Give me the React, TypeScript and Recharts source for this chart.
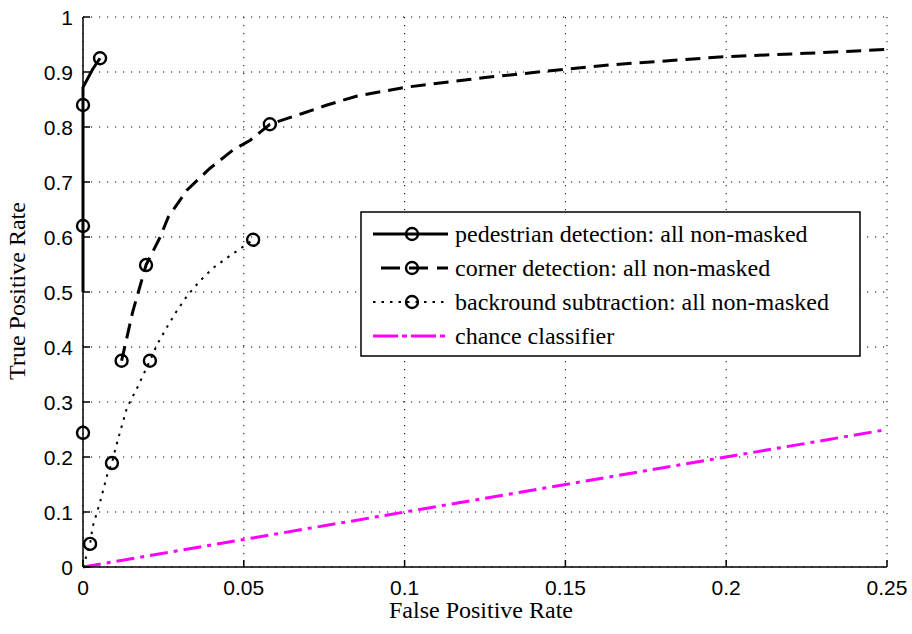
import React from 'react';
import { LineChart, Line, XAxis, YAxis, CartesianGrid } from 'recharts';

// ---- data ----
const pedestrianX = [0, 0, 0, 0, 0.003, 0.0053];
const pedestrianY = [0.5, 0.62, 0.84, 0.872, 0.905, 0.925];
const pedestrianMarks = [1, 2, 5];

const pedestrianExtraX = [0];
const pedestrianExtraY = [0.244];
const pedestrianExtraMarks = [0];

const cornerX = [0.012, 0.0155, 0.0196, 0.024, 0.0265, 0.0323, 0.0395, 0.0466, 0.052, 0.0581, 0.0684, 0.0759, 0.085, 0.1, 0.125, 0.15, 0.164, 0.2, 0.225, 0.25];
const cornerY = [0.375, 0.465, 0.549, 0.6, 0.636, 0.685, 0.725, 0.758, 0.776, 0.805, 0.825, 0.84, 0.856, 0.872, 0.89, 0.905, 0.913, 0.928, 0.934, 0.941];
const cornerMarks = [0, 2, 9];

const backgroundX = [0, 0.0022, 0.003, 0.0053, 0.0075, 0.009, 0.01, 0.0115, 0.0137, 0.0168, 0.0208, 0.023, 0.026, 0.029, 0.0325, 0.0365, 0.0405, 0.045, 0.0529];
const backgroundY = [0.0, 0.042, 0.073, 0.118, 0.167, 0.189, 0.213, 0.245, 0.29, 0.325, 0.375, 0.404, 0.435, 0.464, 0.494, 0.521, 0.544, 0.563, 0.595];
const backgroundMarks = [1, 5, 10, 18];

const chanceX = [0, 0.25];
const chanceY = [0, 0.25];

const xTicks = [0, 0.05, 0.1, 0.15, 0.2, 0.25];
const xTickLabels = ['0', '0.05', '0.1', '0.15', '0.2', '0.25'];
const yTicks = [0, 0.1, 0.2, 0.3, 0.4, 0.5, 0.6, 0.7, 0.8, 0.9, 1];
const yTickLabels = ['0', '0.1', '0.2', '0.3', '0.4', '0.5', '0.6', '0.7', '0.8', '0.9', '1'];

const seriesNames = [
  'pedestrian detection: all non-masked',
  'corner detection: all non-masked',
  'backround subtraction: all non-masked',
  'chance classifier',
];

const toData = (xs: number[], ys: number[], marks: number[]) =>
  xs.map((x, i) => ({ x, y: ys[i], m: marks.includes(i) }));

const pedestrian = toData(pedestrianX, pedestrianY, pedestrianMarks);
const pedestrianExtra = toData(pedestrianExtraX, pedestrianExtraY, pedestrianExtraMarks);
const corner = toData(cornerX, cornerY, cornerMarks);
const background = toData(backgroundX, backgroundY, backgroundMarks);
const chance = toData(chanceX, chanceY, []);

// ---- styles ----
const W = 912;
const H = 634;
const SERIF = '"Liberation Serif", "Times New Roman", serif';
const SANS = '"Liberation Sans", Arial, sans-serif';
const MAGENTA = '#ff00ff';
const MARKER_R = 6;
const MARKER_W = 2.4;

const CORNER_DASH = '15 8';
const BG_DASH = '2.5 6';
const CHANCE_DASH = '18 6 4 6';

const markerDot = (props: any) => {
  const { cx, cy, payload, index } = props;
  if (!payload || !payload.m || cx == null || cy == null) return <g key={`e${index}`} />;
  return (
    <circle key={`c${index}`} cx={cx} cy={cy} r={MARKER_R} fill="none" stroke="#000" strokeWidth={MARKER_W} />
  );
};

const XTick = (props: any) => {
  const { x, y, payload, index } = props;
  const label = xTickLabels[xTicks.indexOf(payload.value)] ?? xTickLabels[index];
  return (
    <g>
      <line x1={x} y1={y} x2={x} y2={y - 7} stroke="#000" strokeWidth={1.5} />
      <text x={x} y={y + 28} textAnchor="middle" fontFamily={SANS} fontSize={21} fill="#000">
        {label}
      </text>
    </g>
  );
};

const YTick = (props: any) => {
  const { x, y, payload, index } = props;
  const label = yTickLabels[yTicks.indexOf(payload.value)] ?? yTickLabels[index];
  return (
    <g>
      <line x1={x} y1={y} x2={x + 7} y2={y} stroke="#000" strokeWidth={1.5} />
      <text x={x - 10} y={y + 8} textAnchor="end" fontFamily={SANS} fontSize={21} fill="#000">
        {label}
      </text>
    </g>
  );
};

const LegendOverlay = () => {
  const bx = 361;
  const by = 212;
  const bw = 499;
  const bh = 144;
  const rows = [234, 268, 302, 336];
  const lx1 = 373;
  const lx2 = 448;
  const mx = 412;
  const tx = 455;
  return (
    <g>
      <rect x={bx} y={by} width={bw} height={bh} fill="#fff" stroke="#000" strokeWidth={1.5} />
      <line x1={lx1} y1={rows[0]} x2={lx2} y2={rows[0]} stroke="#000" strokeWidth={3} />
      <circle cx={mx} cy={rows[0]} r={MARKER_R} fill="none" stroke="#000" strokeWidth={MARKER_W} />
      <line x1={lx1 + 8} y1={rows[1]} x2={lx2} y2={rows[1]} stroke="#000" strokeWidth={3} strokeDasharray="19 9" />
      <circle cx={mx} cy={rows[1]} r={MARKER_R} fill="none" stroke="#000" strokeWidth={MARKER_W} />
      <line x1={lx1} y1={rows[2]} x2={lx2} y2={rows[2]} stroke="#000" strokeWidth={2} strokeDasharray={BG_DASH} />
      <circle cx={mx} cy={rows[2]} r={MARKER_R} fill="none" stroke="#000" strokeWidth={MARKER_W} />
      <line x1={lx1} y1={rows[3]} x2={lx2} y2={rows[3]} stroke={MAGENTA} strokeWidth={3} strokeDasharray="25 4 5 4" />
      {seriesNames.map((n, i) => (
        <text key={n} x={tx} y={rows[i] + 8} fontFamily={SERIF} fontSize={24} fill="#000">
          {n}
        </text>
      ))}
    </g>
  );
};

export default function App() {
  return (
    <div style={{ position: 'absolute', left: 0, top: 0, width: W, height: H, background: '#fff' }}>
      <LineChart width={W} height={H} margin={{ top: 17, right: 25, bottom: 0, left: 0 }}>
        <CartesianGrid stroke="#000" strokeWidth={1} strokeDasharray="1.2 6.8" />
        <XAxis
          type="number"
          dataKey="x"
          domain={[0, 0.25]}
          ticks={xTicks}
          height={67}
          axisLine={{ stroke: '#000', strokeWidth: 1.5 }}
          tickLine={false}
          tickSize={0}
          tickMargin={0}
          tick={<XTick />}
          interval={0}
        />
        <YAxis
          type="number"
          dataKey="y"
          domain={[0, 1]}
          ticks={yTicks}
          width={83}
          axisLine={{ stroke: '#000', strokeWidth: 1.5 }}
          tickLine={false}
          tickSize={0}
          tickMargin={0}
          tick={<YTick />}
          interval={0}
        />
        <Line
          data={chance}
          dataKey="y"
          type="linear"
          stroke={MAGENTA}
          strokeWidth={3}
          strokeDasharray={CHANCE_DASH}
          dot={false}
          activeDot={false}
          isAnimationActive={false}
        />
        <Line
          data={background}
          dataKey="y"
          type="linear"
          stroke="#000"
          strokeWidth={2}
          strokeDasharray={BG_DASH}
          dot={markerDot}
          activeDot={false}
          isAnimationActive={false}
        />
        <Line
          data={corner}
          dataKey="y"
          type="linear"
          stroke="#000"
          strokeWidth={3}
          strokeDasharray={CORNER_DASH}
          dot={markerDot}
          activeDot={false}
          isAnimationActive={false}
        />
        <Line
          data={pedestrian}
          dataKey="y"
          type="linear"
          stroke="#000"
          strokeWidth={3}
          dot={markerDot}
          activeDot={false}
          isAnimationActive={false}
        />
        <Line
          data={pedestrianExtra}
          dataKey="y"
          type="linear"
          stroke="none"
          dot={markerDot}
          activeDot={false}
          isAnimationActive={false}
        />
      </LineChart>
      <svg
        width={W}
        height={H}
        style={{ position: 'absolute', left: 0, top: 0, pointerEvents: 'none' }}
      >
        <LegendOverlay />
        <text x={481} y={618} textAnchor="middle" fontFamily={SERIF} fontSize={24} fill="#000">
          False Positive Rate
        </text>
        <text
          x={25}
          y={291}
          textAnchor="middle"
          fontFamily={SERIF}
          fontSize={24}
          fill="#000"
          transform="rotate(-90 25 291)"
        >
          True Positive Rate
        </text>
      </svg>
    </div>
  );
}
